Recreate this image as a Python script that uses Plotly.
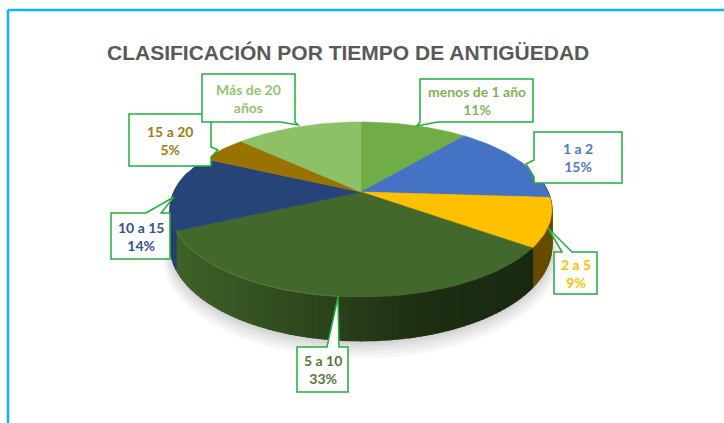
import numpy as np
import plotly.graph_objects as go

# ---- data ----
categories = ["menos de 1 año", "1 a 2", "2 a 5", "5 a 10", "10 a 15", "15 a 20", "Más de 20 años"]
values = [11, 15, 9, 33, 14, 5, 13]
label_lines = [["menos de 1 año", "11%"], ["1 a 2", "15%"], ["2 a 5", "9%"], ["5 a 10", "33%"],
               ["10 a 15", "14%"], ["15 a 20", "5%"], ["Más de 20", "años"]]
slice_colors = ["#70AD47", "#4472C4", "#FFC000", "#43682B", "#264478", "#997300", "#8CC168"]
text_colors = ["#7FB45A", "#4F79C6", "#FFC000", "#55773C", "#34548A", "#A27C10", "#92C570"]
title = "CLASIFICACIÓN POR TIEMPO DE ANTIGÜEDAD"

# ---- projection of the tilted disc (layout, in pixels) ----
CX, CY, RX, RY, PERSP, DEPTH = 361, 192, 187, 84, 0.2, 35


def project(theta, scale=1.0, drop=0.0):
    """theta in degrees, clockwise from 12 o'clock"""
    t = np.radians(theta)
    u, v = scale * np.sin(t), scale * np.cos(t)
    w = 1 + PERSP * v
    return CX + RX * u / w, CY - RY * v / w + drop / w


fig = go.Figure()


def poly(xs, ys, color, line=None, lw=0.8):
    fig.add_trace(go.Scatter(x=list(xs) + [xs[0]], y=list(ys) + [ys[0]], mode="lines", fill="toself",
                             fillcolor=color, line=dict(color=line or color, width=lw),
                             hoverinfo="skip", showlegend=False))


def shade(hex_color, f):
    rgb = [int(hex_color[i:i + 2], 16) for i in (1, 3, 5)]
    return "rgb({},{},{})".format(*[int(min(255, c * f)) for c in rgb])


# soft shadow under the pie
ring = np.linspace(0, 360, 181)
for s, off in [(1.035, 10), (1.028, 8), (1.021, 6), (1.014, 4), (1.007, 3), (1.0, 2)]:
    xs, ys = project(ring, s, DEPTH + off)
    poly(xs, ys, "rgba(120,120,120,0.06)", line="rgba(0,0,0,0)", lw=0)

edges = np.cumsum([0] + values) / sum(values) * 360

# rim: back-to-front strips of the extruded wall
for i, col in enumerate(slice_colors):
    a0, a1 = edges[i], edges[i + 1]
    steps = np.append(np.arange(a0, a1, 1.5), a1)
    for p, q in zip(steps[:-1], steps[1:]):
        mid = (p + q) / 2
        if np.cos(np.radians(mid)) > 0.25:
            continue
        x0, y0 = project(p)
        x1, y1 = project(q)
        x2, y2 = project(q, 1, DEPTH)
        x3, y3 = project(p, 1, DEPTH)
        xm = project(mid)[0]
        f = np.interp(xm, [176, 340, 420, 530], [0.95, 0.62, 0.45, 0.40])
        poly([x0, x1, x2, x3], [y0, y1, y2, y3], shade(col, f), lw=1.3)

# top faces
for i, col in enumerate(slice_colors):
    th = np.linspace(edges[i], edges[i + 1], max(8, int(values[i] * 2)))
    xs, ys = project(th)
    poly([CX] + list(xs), [CY] + list(ys), col, lw=0.6)

# bevel highlight along the large slice
th = np.linspace(185, edges[4], 50)
xs, ys = project(th)
fig.add_trace(go.Scatter(x=xs, y=ys, mode="lines", line=dict(color="#578039", width=1.0),
                         hoverinfo="skip", showlegend=False))

# ---- callouts (box, pointer; layout in pixels) ----
GREEN = "#1FAE3A"
boxes = {  # left, top, right, bottom
    "menos": (420, 79, 533, 122),
    "uno": (534, 132, 622, 183),
    "dos": (554, 252, 597, 294),
    "cinco": (297, 347, 348, 392),
    "diez": (111, 213, 170, 259),
    "quince": (129, 114, 211, 166),
    "mas": (202, 74, 295, 122),
}
pointers = {  # base point, tip, base point, and the side of the box they sit on
    "menos": ((420, 122), (417, 126), (438, 122), "b"),
    "uno": ((534, 160), (526, 164), (534, 177), "l"),
    "dos": ((562, 252), (548, 228), (572, 252), "t"),
    "cinco": ((327, 347), (338, 297), (339, 347), "t"),
    "diez": ((146, 213), (174, 197), (161, 213), "t"),
    "quince": ((211, 147), (218, 150), (211, 157), "r"),
    "mas": ((280, 122), (298, 125), (295, 122), "b"),
}
order = ["menos", "uno", "dos", "cinco", "diez", "quince", "mas"]
shapes = []
for key in order:
    l, t, r, b = boxes[key]
    p0, tip, p1, side = pointers[key]
    if side == "t":
        pts = [(l, t), p0, tip, p1, (r, t), (r, b), (l, b)]
    elif side == "r":
        pts = [(l, t), (r, t), p0, tip, p1, (r, b), (l, b)]
    elif side == "b":
        pts = [(l, t), (r, t), (r, b), p1, tip, p0, (l, b)]
    else:
        pts = [(l, t), (r, t), (r, b), (l, b), p1, tip, p0]
    path = "M " + " L ".join(f"{x},{y}" for x, y in pts) + " Z"
    shapes.append(dict(type="path", path=path, xref="x", yref="y", fillcolor="white",
                       line=dict(color=GREEN, width=1.5), layer="above"))

annotations = []
for key, lines, color in zip(order, label_lines, text_colors):
    l, t, r, b = boxes[key]
    annotations.append(dict(x=(l + r) / 2, y=(t + b) / 2, xref="x", yref="y", showarrow=False,
                            text="<br>".join(lines), align="center", borderpad=0,
                            font=dict(family="Lato", size=14, color=color, weight="bold")))
annotations.append(dict(x=348, y=52, xref="x", yref="y", showarrow=False, text=title,
                        font=dict(family="Liberation Sans", size=21, color="#595959", weight="bold")))

# frame of the picture
BORDER = "#0FB4F0"
shapes.append(dict(type="line", xref="x", yref="y", x0=8, y0=10, x1=724, y1=10, line=dict(color=BORDER, width=2.5)))
shapes.append(dict(type="line", xref="x", yref="y", x0=8, y0=10, x1=8, y1=423, line=dict(color=BORDER, width=2.5)))

fig.update_layout(
    width=724, height=423, margin=dict(l=0, r=0, t=0, b=0), autosize=False,
    paper_bgcolor="white", plot_bgcolor="white", showlegend=False,
    xaxis=dict(range=[0, 724], visible=False, fixedrange=True),
    yaxis=dict(range=[423, 0], visible=False, fixedrange=True),
    shapes=shapes, annotations=annotations,
)
fig.write_html("out.html", config={"displayModeBar": False},
               post_script="document.body.style.margin='0';document.body.style.overflow='hidden';")
